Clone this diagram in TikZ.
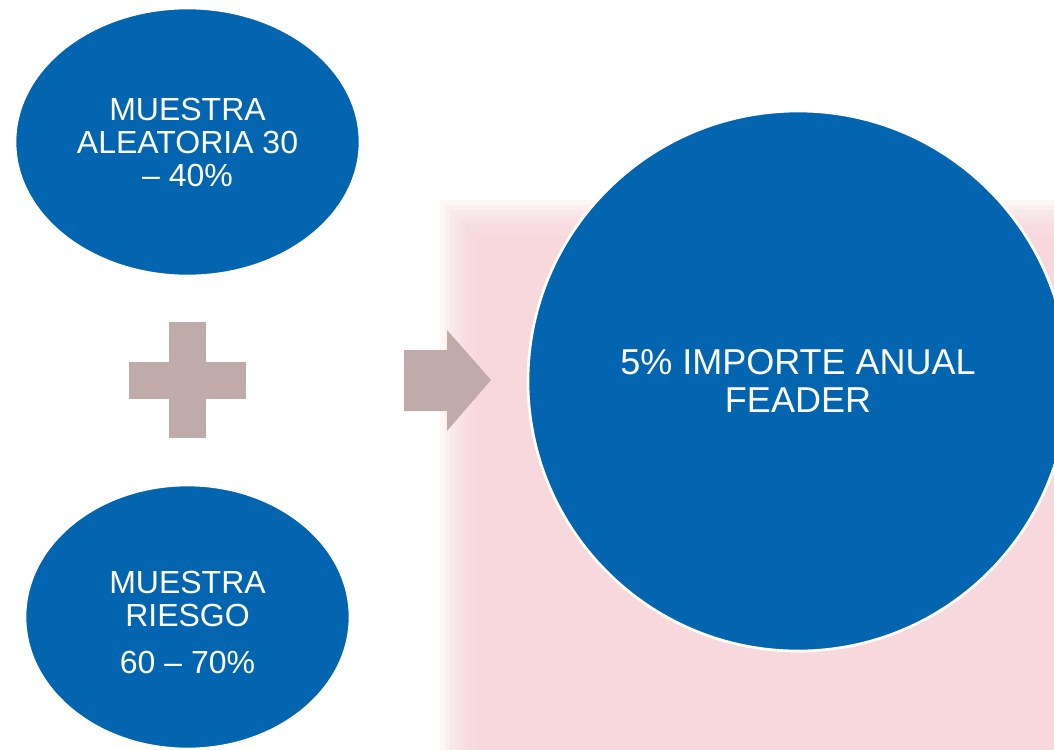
\documentclass[tikz,border=0pt]{standalone}
\usepackage{fontspec}
\setmainfont{Liberation Sans}
\usetikzlibrary{shapes.geometric}

\definecolor{sampleblue}{RGB}{3,101,176}
\definecolor{mauve}{RGB}{192,170,170}
\definecolor{blush}{RGB}{247,212,216}

\begin{document}
\begin{tikzpicture}[x=0.75pt,y=-0.75pt,
    sample/.style={ellipse, fill=sampleblue, draw=white, line width=2pt,
        text=white, align=center, inner sep=0pt,
        font=\fontsize{24}{24.75}\selectfont},
    sign/.style={fill=mauve}]
    % Page size in pixels
    \def\pagewidth{1054}
    \def\pageheight{750}

    % Page and faded backdrop
    \clip (0,0) rectangle (\pagewidth,\pageheight);
    \fill[white] (0,0) rectangle (\pagewidth,\pageheight);
    \foreach \i in {0,...,7}
        \fill[blush, opacity=0.2] (440+5*\i,200+5*\i) rectangle (\pagewidth,\pageheight);

    % Two samples
    \node[sample, minimum width=258.75pt, minimum height=201pt] (random) at (187.5,142)
        {MUESTRA\\ALEATORIA 30\\– 40\%};
    \node[sample, minimum width=243.75pt, minimum height=198pt] (risk) at (187.5,617)
        {\rule{0pt}{24.7pt}MUESTRA\\RIESGO\\[10.5pt]60 – 70\%};

    % Plus sign
    \coordinate (plus) at (187.5,380);
    \fill[sign] (169,322) rectangle (206,438);
    \fill[sign] (129,362) rectangle (246,399);

    % Arrow
    \coordinate (arrow) at (447,380);
    \fill[sign] (404,350) -- (447,350) -- (447,330) -- (491,380)
        -- (447,431) -- (447,411) -- (404,411) -- cycle;

    % Result
    \node[sample, circle, minimum size=405pt,
        font=\fontsize{27}{28.5}\selectfont] (total) at (798,381)
        {5\% IMPORTE ANUAL\\FEADER};

\end{tikzpicture}
\end{document}
